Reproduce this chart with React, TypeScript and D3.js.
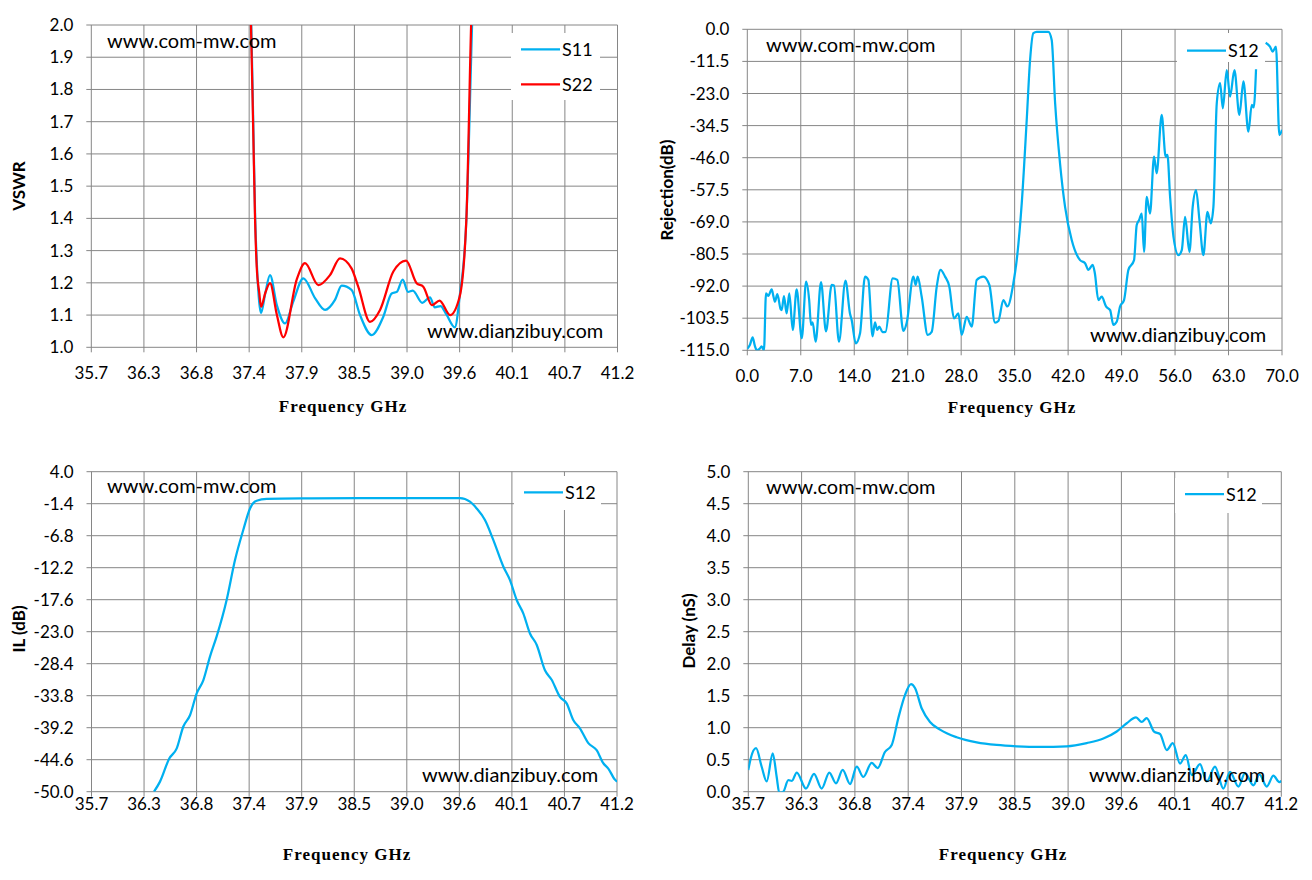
import * as d3 from "d3"

// ---- data ----

type Pt = [number, number | null]

const freqTicks = [35.7, 36.25, 36.8, 37.35, 37.9, 38.45, 39.0, 39.55, 40.1, 40.65, 41.2]
const freqTickLabels = ["35.7", "36.3", "36.8", "37.4", "37.9", "38.5", "39.0", "39.6", "40.1", "40.7", "41.2"]

const vswrTicks = [1.0, 1.1, 1.2, 1.3, 1.4, 1.5, 1.6, 1.7, 1.8, 1.9, 2.0]
const rejFreqTicks = [0, 7, 14, 21, 28, 35, 42, 49, 56, 63, 70]
const rejTicks = [0, -11.5, -23, -34.5, -46, -57.5, -69, -80.5, -92, -103.5, -115]
const ilTicks = [4, -1.4, -6.8, -12.2, -17.6, -23, -28.4, -33.8, -39.2, -44.6, -50]
const delayTicks = [0, 0.5, 1, 1.5, 2, 2.5, 3, 3.5, 4, 4.5, 5]

const s11Vswr: Pt[] = [
  [37.36, 2.1], [37.372, 2.0], [37.395, 1.66], [37.413, 1.4], [37.432, 1.25], [37.455, 1.14],
  [37.474, 1.106], [37.52, 1.17], [37.568, 1.224], [37.64, 1.13], [37.725, 1.074], [37.81, 1.141],
  [37.916, 1.214], [38.04, 1.152], [38.143, 1.116], [38.247, 1.147], [38.317, 1.191], [38.42, 1.178],
  [38.509, 1.1], [38.631, 1.038], [38.752, 1.095], [38.84, 1.167], [38.893, 1.172], [38.955, 1.21],
  [39.01, 1.172], [39.06, 1.176], [39.16, 1.138], [39.24, 1.155], [39.29, 1.124], [39.35, 1.128],
  [39.41, 1.103], [39.5, 1.062], [39.55, 1.157], [39.62, 1.395], [39.68, 2.0], [39.69, 2.1],
]

const s22Vswr: Pt[] = [
  [37.357, 2.1], [37.369, 2.0], [37.393, 1.665], [37.411, 1.405], [37.429, 1.25], [37.456, 1.168],
  [37.474, 1.126], [37.52, 1.17], [37.568, 1.199], [37.64, 1.1], [37.707, 1.031], [37.847, 1.21],
  [37.934, 1.261], [38.073, 1.193], [38.195, 1.224], [38.3, 1.276], [38.42, 1.245], [38.49, 1.188],
  [38.613, 1.079], [38.718, 1.116], [38.857, 1.235], [38.99, 1.269], [39.1, 1.199], [39.17, 1.188],
  [39.26, 1.131], [39.34, 1.145], [39.45, 1.1], [39.55, 1.157], [39.62, 1.395], [39.67, 2.0], [39.68, 2.1],
]

const s12Rejection: Pt[] = [
  [0.0, -114.5], [0.35, -113], [0.7, -110.4], [1.0, -113.5], [1.25, -115], [1.6, -114.5], [1.88, -113.6],
  [2.18, -115], [2.45, -94.6], [2.75, -95.5], [3.19, -93.2], [3.45, -96], [3.62, -97.6], [3.93, -94.9],
  [4.37, -100.3], [4.5, -100.6], [4.8, -95.6], [5.15, -101.8], [5.5, -94.6], [5.95, -107.7], [6.46, -93.2],
  [7.13, -110.7], [7.7, -90.4], [8.1, -97], [8.34, -105.9], [8.55, -105], [8.95, -111.9], [9.65, -90.6],
  [10.3, -108.2], [11.05, -91.6], [11.35, -91.8], [12.0, -111.9], [12.85, -90], [13.44, -101.8],
  [13.66, -104.1], [14.2, -112.5], [14.76, -108.9], [15.41, -88.6], [15.85, -89.8], [16.4, -110],
  [16.72, -105], [17.0, -107.7], [17.29, -106.5], [17.7, -108.5], [18.1, -108.4], [19.03, -89.2],
  [19.64, -89.8], [20.43, -108], [20.87, -105.1], [21.74, -88.6], [22.04, -91.6], [22.3, -88.6],
  [22.83, -95.8], [23.62, -109.5], [24.14, -108.4], [24.8, -92.2], [25.3, -86.2], [25.89, -88.6],
  [26.45, -92.2], [27.06, -103.6], [27.63, -101.8], [28.07, -109.5], [28.72, -103], [29.38, -106.5],
  [30.03, -89.8], [30.9, -88.6], [31.69, -91.6], [32.43, -105.1], [32.87, -104.5], [33.52, -97],
  [34.05, -99.3], [34.83, -91], [35.27, -82.7], [35.93, -62.3], [36.58, -32.5], [37.02, -11],
  [37.45, -1.4], [37.89, -0.9], [39.41, -0.9], [39.85, -3.8], [40.3, -26.5], [40.94, -48], [41.6, -63.6],
  [42.47, -75.5], [43.56, -82.7], [44.22, -83.8], [44.65, -86.2], [45.22, -84.4], [45.5, -87.4],
  [45.96, -97], [46.4, -95.8], [46.96, -99.3], [47.5, -100.6], [47.92, -105.9], [48.36, -104.8],
  [48.8, -99.3], [49.32, -97], [49.89, -86.2], [50.63, -82.7], [50.98, -70.1], [51.3, -68.3],
  [51.64, -66], [51.94, -79.7], [52.29, -60], [52.72, -66], [53.25, -45.6], [53.59, -51.6],
  [54.25, -30.7], [54.77, -45.6], [55.0, -45], [55.35, -60], [55.79, -74.3], [56.44, -80.9],
  [56.88, -79.1], [57.31, -67.2], [57.88, -79.7], [58.31, -63.6], [58.75, -57.6], [59.19, -68.3],
  [59.71, -80.9], [60.24, -65.4], [60.67, -69.5], [61.02, -63.6], [61.46, -26.5], [61.9, -19.3],
  [62.25, -28.3], [62.77, -14.6], [63.2, -24.1], [63.77, -14.6], [64.42, -30.7], [64.95, -18.7],
  [65.6, -36.7], [66.04, -27.1], [66.3, -28], [66.6, -14.3], [67.2, null], [67.86, -4.8],
  [68.43, -6.2], [68.78, -8], [69.21, -6.2], [69.65, -37.9], [70.0, -36],
]

const s12Il: Pt[] = [
  [36.354, -50], [36.417, -48.3], [36.514, -44.4], [36.592, -42.7], [36.661, -39.0], [36.731, -37.1],
  [36.801, -33.4], [36.87, -31.2], [36.94, -27.2], [37.01, -23.8], [37.115, -17.6], [37.202, -10.9],
  [37.289, -5.8], [37.359, -2.2], [37.429, -0.9], [37.534, -0.6], [38.0, -0.5], [38.5, -0.45],
  [39.0, -0.45], [39.557, -0.45], [39.661, -1.06], [39.731, -2.2], [39.818, -4.15], [39.905, -7.5],
  [40.01, -12.0], [40.08, -14.3], [40.15, -17.65], [40.219, -19.9], [40.289, -23.3], [40.359, -25.2],
  [40.446, -29.5], [40.516, -31.1], [40.603, -34.0], [40.673, -35.1], [40.742, -37.9], [40.812, -39.3],
  [40.9, -41.8], [40.987, -43.0], [41.057, -45.2], [41.109, -46.1], [41.18, -48.0], [41.2, -48.3],
]

const s12Delay: Pt[] = [
  [35.7, 0.34], [35.725, 0.52], [35.78, 0.68], [35.838, 0.39], [35.89, 0.16], [35.952, 0.6],
  [35.993, 0.23], [36.02, -0.02], [36.061, 0.0], [36.113, 0.18], [36.15, 0.17], [36.2, 0.3],
  [36.295, 0.05], [36.378, 0.28], [36.457, 0.05], [36.536, 0.3], [36.605, 0.13], [36.674, 0.34],
  [36.75, 0.12], [36.819, 0.39], [36.887, 0.23], [36.973, 0.45], [37.035, 0.37], [37.11, 0.62],
  [37.18, 0.73], [37.248, 1.15], [37.317, 1.51], [37.379, 1.68], [37.42, 1.62], [37.49, 1.3],
  [37.575, 1.09], [37.678, 0.97], [37.85, 0.85], [38.057, 0.77], [38.263, 0.73], [38.47, 0.71],
  [38.71, 0.7], [38.986, 0.71], [39.192, 0.76], [39.364, 0.83], [39.502, 0.94], [39.605, 1.07],
  [39.701, 1.16], [39.76, 1.09], [39.811, 1.15], [39.887, 0.94], [39.95, 0.9], [40.018, 0.65],
  [40.08, 0.76], [40.155, 0.44], [40.214, 0.57], [40.276, 0.26], [40.361, 0.43], [40.43, 0.16],
  [40.516, 0.39], [40.602, 0.05], [40.671, 0.31], [40.757, 0.08], [40.826, 0.29], [40.912, 0.1],
  [40.974, 0.27], [41.05, 0.08], [41.118, 0.25], [41.18, 0.15], [41.2, 0.17],
]

// ---- styling ----

const GRID = "#868686"
const BLUE = "#00B0F0"
const RED = "#FF0000"
const SANS = "Lato, 'Noto Sans', sans-serif"
const SERIF = "'Liberation Serif', 'DejaVu Serif', serif"

interface Series {
  name: string
  color: string
  data: Pt[]
}

interface PanelProps {
  id: string
  left: number
  top: number
  width: number
  height: number
  xDomain: [number, number]
  xTicks: number[]
  xLabels: string[]
  xLabelGap: number
  yDomain: [number, number]
  yTicks: number[]
  yDigits: number
  yTitle: string
  yTitlePos: [number, number]
  xTitlePos: [number, number]
  series: Series[]
  legend: { x: number; y: number; w: number; h: number; rows: number[] }
  marks: [number, number][]
}

function Panel(p: PanelProps) {
  const x = d3.scaleLinear().domain(p.xDomain).range([p.left, p.left + p.width])
  const y = d3.scaleLinear().domain(p.yDomain).range([p.top + p.height, p.top])
  const line = d3
    .line<Pt>()
    .defined((d) => d[1] != null)
    .x((d) => x(d[0]))
    .y((d) => y(d[1] as number))
    .curve(d3.curveMonotoneX)

  const bottom = p.top + p.height
  const lg = p.legend

  return (
    <g>
      <defs>
        <clipPath id={`clip-${p.id}`}>
          <rect x={p.left} y={p.top} width={p.width} height={p.height} />
        </clipPath>
      </defs>

      {/* grid */}
      {p.yTicks.map((t, i) => (
        <line key={`gy${i}`} x1={p.left - 5} x2={p.left + p.width} y1={y(t)} y2={y(t)} stroke={GRID} strokeWidth={1} />
      ))}
      {p.xTicks.map((t, i) => (
        <line key={`gx${i}`} x1={x(t)} x2={x(t)} y1={p.top} y2={bottom + 5} stroke={GRID} strokeWidth={1} />
      ))}

      {/* tick labels */}
      {p.yTicks.map((t, i) => (
        <text key={`ly${i}`} x={p.left - 18} y={y(t) + 6} textAnchor="end" fontFamily={SANS} fontSize={17}>
          {t.toFixed(p.yDigits)}
        </text>
      ))}
      {p.xTicks.map((t, i) => (
        <text key={`lx${i}`} x={x(t)} y={bottom + p.xLabelGap} textAnchor="middle" fontFamily={SANS} fontSize={17}>
          {p.xLabels[i]}
        </text>
      ))}

      {/* axis titles */}
      <text
        transform={`translate(${p.yTitlePos[0]},${p.yTitlePos[1]}) rotate(-90)`}
        textAnchor="middle"
        fontFamily={SANS}
        fontWeight="bold"
        fontSize={17}
      >
        {p.yTitle}
      </text>
      <text
        x={p.xTitlePos[0]}
        y={p.xTitlePos[1]}
        textAnchor="middle"
        fontFamily={SERIF}
        fontWeight="bold"
        fontSize={17}
        letterSpacing={1}
      >
        Frequency GHz
      </text>

      {/* curves */}
      <g clipPath={`url(#clip-${p.id})`}>
        {p.series.map((s) => (
          <path key={s.name} d={line(s.data) || ""} fill="none" stroke={s.color} strokeWidth={2.25} strokeLinejoin="round" />
        ))}
      </g>

      {/* watermarks */}
      <text x={p.marks[0][0]} y={p.marks[0][1]} fontFamily={SANS} fontSize={20}>
        www.com-mw.com
      </text>
      <text x={p.marks[1][0]} y={p.marks[1][1]} fontFamily={SANS} fontSize={20}>
        www.dianzibuy.com
      </text>

      {/* legend */}
      <rect x={lg.x} y={lg.y} width={lg.w} height={lg.h} fill="#fff" />
      {p.series.map((s, i) => (
        <g key={`lg${s.name}`}>
          <line x1={lg.x + 10} x2={lg.x + 49} y1={lg.rows[i]} y2={lg.rows[i]} stroke={s.color} strokeWidth={2.25} />
          <text x={lg.x + 51} y={lg.rows[i] + 6.5} fontFamily={SANS} fontSize={18}>
            {s.name}
          </text>
        </g>
      ))}
    </g>
  )
}

export default function App() {
  return (
    <svg
      width={1312}
      height={880}
      style={{ position: "absolute", left: 0, top: 0, background: "#fff" }}
    >
      <rect width={1312} height={880} fill="#fff" />
      <Panel
        id="vswr"
        left={91.3}
        top={25}
        width={526.2}
        height={322.3}
        xDomain={[35.7, 41.2]}
        xTicks={freqTicks}
        xLabels={freqTickLabels}
        xLabelGap={32}
        yDomain={[1.0, 2.0]}
        yTicks={vswrTicks}
        yDigits={1}
        yTitle="VSWR"
        yTitlePos={[25, 186]}
        xTitlePos={[343, 412]}
        series={[
          { name: "S11", color: BLUE, data: s11Vswr },
          { name: "S22", color: RED, data: s22Vswr },
        ]}
        legend={{ x: 511, y: 33, w: 89, h: 67, rows: [49.3, 84.3] }}
        marks={[[107, 48], [427, 338]]}
      />
      <Panel
        id="rej"
        left={747.3}
        top={29.3}
        width={534.7}
        height={321}
        xDomain={[0, 70]}
        xTicks={rejFreqTicks}
        xLabels={rejFreqTicks.map((t) => t.toFixed(1))}
        xLabelGap={32}
        yDomain={[-115, 0]}
        yTicks={rejTicks}
        yDigits={1}
        yTitle="Rejection(dB)"
        yTitlePos={[673, 190]}
        xTitlePos={[1012, 413]}
        series={[{ name: "S12", color: BLUE, data: s12Rejection }]}
        legend={{ x: 1177, y: 33, w: 88, h: 29, rows: [50.7] }}
        marks={[[766, 52], [1090, 342]]}
      />
      <Panel
        id="il"
        left={91.5}
        top={471.7}
        width={525.5}
        height={320}
        xDomain={[35.7, 41.2]}
        xTicks={freqTicks}
        xLabels={freqTickLabels}
        xLabelGap={18}
        yDomain={[-50, 4]}
        yTicks={ilTicks}
        yDigits={1}
        yTitle="IL (dB)"
        yTitlePos={[25, 629]}
        xTitlePos={[347, 860]}
        series={[{ name: "S12", color: BLUE, data: s12Il }]}
        legend={{ x: 514, y: 476, w: 87, h: 34, rows: [492.3] }}
        marks={[[107, 493], [422, 782]]}
      />
      <Panel
        id="delay"
        left={748.3}
        top={471.7}
        width={533}
        height={320}
        xDomain={[35.7, 41.2]}
        xTicks={freqTicks}
        xLabels={freqTickLabels}
        xLabelGap={18}
        yDomain={[0, 5]}
        yTicks={delayTicks}
        yDigits={1}
        yTitle="Delay (nS)"
        yTitlePos={[695, 631]}
        xTitlePos={[1003, 860]}
        series={[{ name: "S12", color: BLUE, data: s12Delay }]}
        legend={{ x: 1175, y: 478, w: 87, h: 35, rows: [494] }}
        marks={[[766, 494], [1089, 782]]}
      />
    </svg>
  )
}
